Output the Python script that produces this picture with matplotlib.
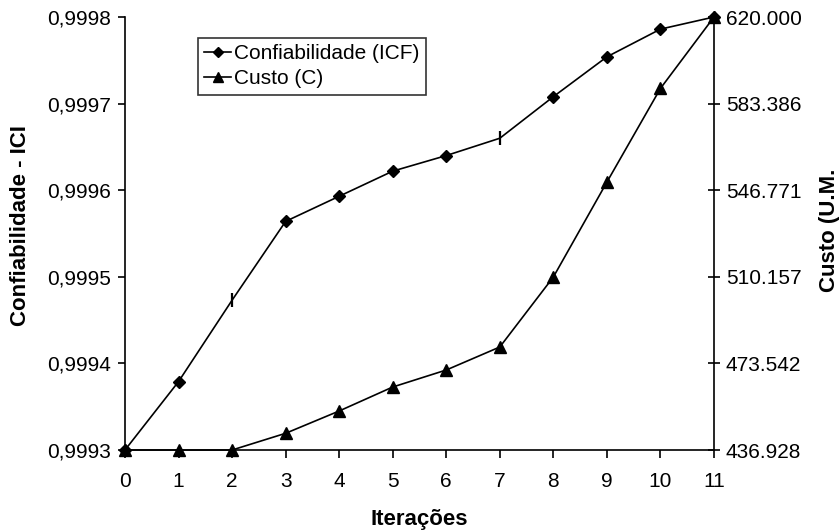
import matplotlib
matplotlib.use("Agg")
import matplotlib.pyplot as plt
from matplotlib.ticker import FixedLocator, FixedFormatter

plt.rcParams['font.family'] = ['Liberation Sans', 'DejaVu Sans']

iteracoes = list(range(12))
confiabilidade = [0.99930, 0.999379, 0.999473, 0.999564, 0.999593, 0.999622,
                  0.999640, 0.999660, 0.999708, 0.999754, 0.999786, 0.99980]
custo = [436.928, 436.928, 436.928, 443.99, 453.42, 463.56,
         470.75, 480.48, 510.07, 550.2, 589.8, 620.000]

left_ticks = [0.9993, 0.9994, 0.9995, 0.9996, 0.9997, 0.9998]
left_labels = ["0,9993", "0,9994", "0,9995", "0,9996", "0,9997", "0,9998"]
right_ticks = [436.928, 473.542, 510.157, 546.771, 583.386, 620.000]
right_labels = ["436.928", "473.542", "510.157", "546.771", "583.386", "620.000"]
# points drawn with a bar marker in the reference
bar_points = [2, 7]

fig = plt.figure(figsize=(8.4, 5.31), dpi=100)
ax = fig.add_axes([125/840, 81/531, 589/840, 433/531])
ax2 = ax.twinx()

diamond_idx = [i for i in iteracoes if i not in bar_points]
l1, = ax.plot(iteracoes, confiabilidade, color='black', lw=1.2, marker='D',
              markersize=6.5, markevery=diamond_idx, clip_on=False, zorder=3,
              label='Confiabilidade (ICF)')
ax.plot([iteracoes[i] for i in bar_points], [confiabilidade[i] for i in bar_points],
        ls='none', marker='|', markersize=10, mew=1.6, color='black', zorder=3)
l2, = ax2.plot(iteracoes, custo, color='black', lw=1.2, marker='^',
               markersize=8.5, clip_on=False, zorder=3, label='Custo (C)')

ax.set_xlim(0, 11)
ax.set_ylim(0.9993, 0.9998)
ax2.set_ylim(436.928, 620.0)

ax.yaxis.set_major_locator(FixedLocator(left_ticks))
ax.yaxis.set_major_formatter(FixedFormatter(left_labels))
ax2.yaxis.set_major_locator(FixedLocator(right_ticks))
ax2.yaxis.set_major_formatter(FixedFormatter(right_labels))
ax.set_xticks(iteracoes)

for a in (ax, ax2):
    a.spines['top'].set_visible(False)
    for s in a.spines.values():
        s.set_linewidth(1.2)
        s.set_color('black')
ax.spines['right'].set_visible(False)
ax2.spines['left'].set_visible(False)
ax2.spines['bottom'].set_visible(False)

ax.tick_params(axis='y', direction='out', length=5, width=1.2, labelsize=15, pad=5)
ax.tick_params(axis='x', direction='out', length=6, width=1.2, labelsize=15, pad=10)
ax2.tick_params(axis='y', direction='inout', length=9, width=1.2, labelsize=15, pad=4)

fig.text(21/840, 1 - 226/531, 'Confiabilidade - ICI', rotation=90, ha='center',
         va='center', fontsize=16, fontweight='bold')
fig.text(830/840, 1 - 230/531, 'Custo (U.M.', rotation=90, ha='center',
         va='center', fontsize=16, fontweight='bold')
fig.text(419.5/840, 1 - 525/531, 'Iterações', ha='center', va='baseline',
         fontsize=16, fontweight='bold')

leg = ax.legend(handles=[l1, l2], loc='upper left',
                bbox_to_anchor=((198 - 125)/589, (450 - 38)/433),
                frameon=True, fancybox=False, fontsize=15, handlelength=1.3,
                handletextpad=0.15, borderpad=0.3, labelspacing=0.3,
                borderaxespad=0, markerscale=0.85)
leg.get_frame().set_edgecolor('black')
leg.get_frame().set_linewidth(1.2)
leg.set_zorder(5)

fig.savefig('out.png', dpi=100)
